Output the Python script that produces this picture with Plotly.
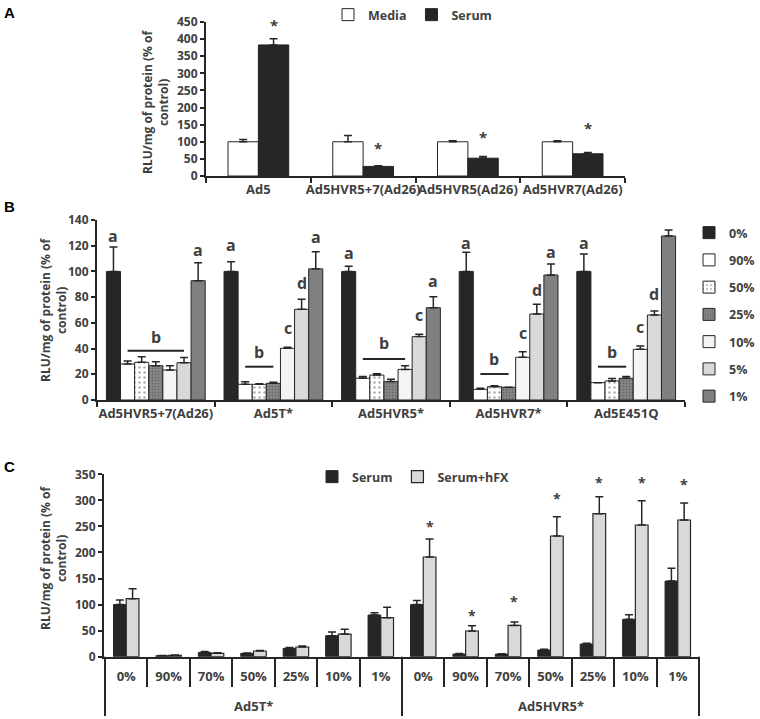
import plotly.graph_objects as go

W, H = 760, 719
FONT = "Open Sans"
TXT = "#404040"
AX = "#262626"

# ---------------- Panel A data ----------------
a_groups = ["Ad5", "Ad5HVR5+7(Ad26)", "Ad5HVR5(Ad26)", "Ad5HVR7(Ad26)"]
a_media = [100, 100, 100, 100]
a_media_err = [7, 18, 3, 3]
a_serum = [383, 28, 52, 65]
a_serum_err = [18, 2, 5, 4]
a_star_y = [440, 82, 114, 140]

# ---------------- Panel B data ----------------
b_groups = ["Ad5HVR5+7(Ad26)", "Ad5T*", "Ad5HVR5*", "Ad5HVR7*", "Ad5E451Q"]
b_series = ["0%", "90%", "50%", "25%", "10%", "5%", "1%"]
b_0 = [100, 100, 100, 100, 100]
b_90 = [28, 12.2, 17, 8.3, 13.5]
b_50 = [29.3, 12.2, 19.4, 10.4, 14.8]
b_25 = [26.7, 13, 14.3, 9.9, 16.9]
b_10 = [23.3, 40.2, 23.8, 33.2, 39.4]
b_5 = [29, 70.5, 49.3, 66.9, 66.1]
b_1 = [92.8, 102, 71.8, 97.2, 127.6]
b_0_err = [19, 7.6, 4, 15, 13.6]
b_90_err = [2.3, 2, 1.2, 0.8, 0]
b_50_err = [4.4, 0.4, 1, 0.6, 2]
b_25_err = [3, 0.8, 1.8, 0, 1.3]
b_10_err = [3.4, 0.8, 2.9, 4.4, 2.6]
b_5_err = [4, 7.8, 1.8, 7.5, 3.1]
b_1_err = [14, 13.4, 8.6, 8.6, 4.7]
# significance letters (group index, bar index, letter, y)
b_let_group = [0, 0, 1, 1, 1, 1, 2, 2, 2, 3, 3, 3, 3, 4, 4, 4, 4]
b_let_bar = [0, 6, 0, 4, 5, 6, 0, 5, 6, 0, 4, 5, 6, 0, 4, 5, 6]
b_let_text = ["a", "a", "a", "c", "d", "a", "a", "c", "a", "a", "c", "d", "a", "a", "c", "d", "a"]
b_let_y = [127.5, 116.6, 120.5, 56, 91, 127, 114, 66, 92.5, 122, 52, 85.5, 115.3, 122, 57, 82.4, 143.9]
# "b" bracket per group: last bar covered, line height, letter height
b_line_end = [5, 3, 4, 3, 3]
b_line_y = [38.3, 25.9, 31.9, 20.2, 25.9]
b_b_y = [49, 37.6, 44.3, 31.9, 37.6]

# ---------------- Panel C data ----------------
c_viruses = ["Ad5T*", "Ad5HVR5*"]
c_virus = ["Ad5T*"] * 7 + ["Ad5HVR5*"] * 7
c_conc = ["0%", "90%", "70%", "50%", "25%", "10%", "1%"] * 2
c_serum = [100, 2, 8.3, 6.4, 16, 40.3, 80, 100, 5, 5, 12.8, 24.3, 71.7, 145.2]
c_serum_err = [9, 0.5, 1.7, 0.8, 1.5, 7, 4.4, 8, 1, 0.6, 1.5, 1.5, 9, 24.3]
c_hfx = [111.3, 2.6, 6.4, 10.9, 18.6, 43.5, 74.9, 191.3, 49.3, 60.1, 231.6, 274.5, 252.7, 262.3]
c_hfx_err = [19, 0.5, 1, 1.1, 1.9, 9, 19.8, 34.5, 10, 6.4, 37, 32.6, 46.7, 32.6]
c_star_idx = [7, 8, 9, 10, 11, 12, 13]
c_star_y = [249.5, 80, 106.8, 303.9, 334.6, 334.6, 330.8]

# unique category keys for panel C (virus + concentration), labelled by concentration
c_keys = [v + " " + c for v, c in zip(c_virus, c_conc)]

fig = go.Figure()

def err(a):
    return dict(type="data", array=a, arrayminus=[0] * len(a), symmetric=False,
                color=AX, thickness=1.5, width=4)

# ---- Panel A bars
fig.add_trace(go.Bar(x=a_groups, y=a_media, name="Media", width=0.29, offset=-0.29,
                     marker=dict(color="white", line=dict(color=AX, width=1)),
                     error_y=err(a_media_err), xaxis="x", yaxis="y", legend="legend"))
fig.add_trace(go.Bar(x=a_groups, y=a_serum, name="Serum", width=0.29, offset=0,
                     marker=dict(color="#262626", line=dict(color=AX, width=1)),
                     error_y=err(a_serum_err), xaxis="x", yaxis="y", legend="legend"))

# ---- Panel B bars
b_vals = [b_0, b_90, b_50, b_25, b_10, b_5, b_1]
b_errs = [b_0_err, b_90_err, b_50_err, b_25_err, b_10_err, b_5_err, b_1_err]
b_colors = ["#262626", "#ffffff", "#ffffff", "#7f7f7f", "#f4f4f4", "#d9d9d9", "#808080"]
b_patterns = [None,
              None,
              dict(shape=".", fgcolor="#555555", bgcolor="#ffffff", size=5, solidity=0.18),
              dict(shape=".", fgcolor="#4a4a4a", bgcolor="#8a8a8a", size=3, solidity=0.4),
              None, None, None]
BW = 0.12
B0 = -0.42
for k, name in enumerate(b_series):
    mk = dict(color=b_colors[k], line=dict(color=AX, width=1))
    if b_patterns[k] is not None:
        mk["pattern"] = b_patterns[k]
    fig.add_trace(go.Bar(x=b_groups, y=b_vals[k], name=name, width=BW, offset=B0 + BW * k,
                         marker=mk, error_y=err(b_errs[k]), xaxis="x2", yaxis="y2",
                         legend="legend2", legendgroup=name))

# ---- Panel C bars
fig.add_trace(go.Bar(x=c_keys, y=c_serum, name="Serum", width=0.3, offset=-0.3,
                     marker=dict(color="#262626", line=dict(color=AX, width=1)),
                     error_y=err(c_serum_err), xaxis="x3", yaxis="y3", legend="legend3"))
fig.add_trace(go.Bar(x=c_keys, y=c_hfx, name="Serum+hFX", width=0.3, offset=0,
                     marker=dict(color="#d9d9d9", line=dict(color=AX, width=1.2)),
                     error_y=err(c_hfx_err), xaxis="x3", yaxis="y3", legend="legend3"))

ann = []
shapes = []
tick_font = dict(family=FONT, size=12, color=TXT, weight="bold")
xtick_font = dict(family=FONT, size=13, color=TXT, weight="bold")
lg_font = dict(family=FONT, size=12.5, color=TXT, weight="bold")

# asterisks A
for i, yv in enumerate(a_star_y):
    ann.append(dict(x=i + 0.145, y=yv, xref="x", yref="y", text="*", showarrow=False,
                    font=dict(family=FONT, size=15, color=TXT, weight="bold")))
# letters B
for g, k, t, yv in zip(b_let_group, b_let_bar, b_let_text, b_let_y):
    ann.append(dict(x=g + B0 + BW * k + BW / 2, y=yv, xref="x2", yref="y2", text=t,
                    showarrow=False, font=dict(family=FONT, size=16, color=TXT, weight="bold")))
for g in range(len(b_groups)):
    x0 = g + B0 + BW * 1 + BW / 2
    x1 = g + B0 + BW * b_line_end[g] + BW / 2
    shapes.append(dict(type="line", xref="x2", yref="y2", x0=x0, x1=x1,
                       y0=b_line_y[g], y1=b_line_y[g], line=dict(color=AX, width=2)))
    ann.append(dict(x=(x0 + x1) / 2, y=b_b_y[g], xref="x2", yref="y2", text="b",
                    showarrow=False, font=dict(family=FONT, size=16, color=TXT, weight="bold")))
# asterisks C
for i, yv in zip(c_star_idx, c_star_y):
    ann.append(dict(x=i + 0.15, y=yv, xref="x3", yref="y3", text="*", showarrow=False,
                    font=dict(family=FONT, size=14, color=TXT, weight="bold")))
# group labels and group dividers for panel C
n_per = len(c_conc) // len(c_viruses)
for gi, v in enumerate(c_viruses):
    ann.append(dict(x=gi * n_per + (n_per - 1) / 2, y=1 - 706 / H, xref="x3", yref="paper",
                    text=v, showarrow=False, yanchor="middle", font=xtick_font))
for gi in range(len(c_viruses) + 1):
    xb = gi * n_per - 0.5
    shapes.append(dict(type="line", xref="x3", yref="paper", x0=xb, x1=xb,
                       y0=1 - 656.7 / H, y1=1 - 716 / H, line=dict(color=AX, width=2)))

# panel labels
for lab, yp in [("A", 13), ("B", 207), ("C", 466)]:
    ann.append(dict(x=2 / W, y=1 - yp / H, xref="paper", yref="paper", text="<b>%s</b>" % lab,
                    showarrow=False, xanchor="left", yanchor="middle",
                    font=dict(family="Liberation Sans", size=15, color="black")))
# y titles
ytitle = "RLU/mg of protein (% of<br>control)"
for xc, yc in [(156, 102), (53, 310), (53, 558)]:
    ann.append(dict(x=xc / W, y=1 - yc / H, xref="paper", yref="paper", text=ytitle,
                    showarrow=False, textangle=-90, xanchor="center", yanchor="middle",
                    font=dict(family=FONT, size=12, color=TXT, weight="bold")))

def yax(dom, rng, dt, anchor):
    return dict(domain=dom, range=rng, dtick=dt, anchor=anchor, showgrid=False, zeroline=False,
                showline=True, linecolor=AX, linewidth=2, ticks="outside", ticklen=4,
                tickwidth=2, tickcolor=AX, tickfont=tick_font, fixedrange=True, automargin=False)

def xcat(dom, anchor):
    return dict(domain=dom, anchor=anchor, type="category", showline=True,
                linecolor=AX, linewidth=2, ticks="outside", tickson="boundaries", ticklen=5,
                tickwidth=2, tickcolor=AX, tickfont=xtick_font, showgrid=False, tickangle=0,
                automargin=False)

x3 = xcat([104 / W, 700 / W], "y3")
x3.update(ticklen=28, tickmode="array", tickvals=c_keys, ticktext=c_conc, ticklabelstandoff=7)

fig.update_layout(
    width=W, height=H, margin=dict(l=0, r=0, t=0, b=0, autoexpand=False),
    paper_bgcolor="white", plot_bgcolor="white", showlegend=True,
    barmode="group",
    xaxis=xcat([206 / W, 625 / W], "y"),
    yaxis=yax([1 - 176 / H, 1 - 22 / H], [0, 450], 50, "x"),
    xaxis2=xcat([97 / W, 685 / W], "y2"),
    yaxis2=yax([1 - 400 / H, 1 - 220 / H], [0, 140], 20, "x2"),
    xaxis3=x3,
    yaxis3=yax([1 - 656.7 / H, 1 - 474.3 / H], [0, 350], 50, "x3"),
    legend=dict(orientation="h", x=328 / W, y=1, xanchor="left", yanchor="top",
                font=lg_font, bgcolor="rgba(0,0,0,0)", itemwidth=30),
    legend2=dict(orientation="v", x=1, y=1 - 218 / H, xanchor="right", yanchor="top",
                 font=lg_font, bgcolor="rgba(0,0,0,0)",
                 tracegroupgap=8, traceorder="grouped", itemwidth=30),
    legend3=dict(orientation="h", x=312 / W, y=1 - 462 / H, xanchor="left", yanchor="top",
                 font=lg_font, bgcolor="rgba(0,0,0,0)", itemwidth=30),
    annotations=ann, shapes=shapes,
)

fig.write_html("out.html")
